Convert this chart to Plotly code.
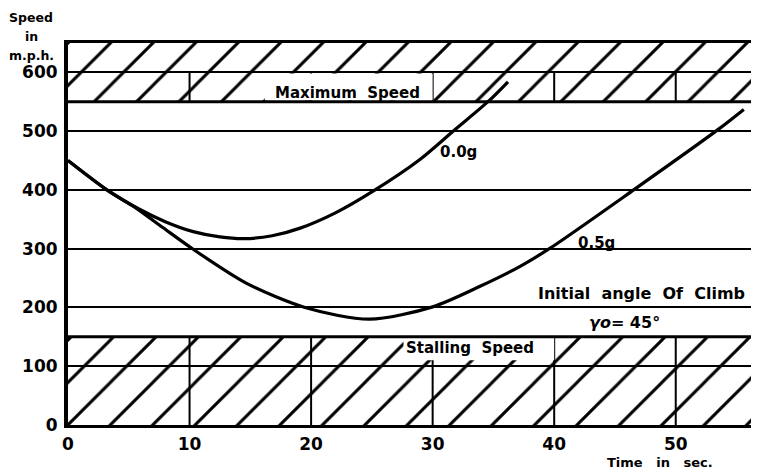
import plotly.graph_objects as go

# ---- data ----
time_00g = [0, 3.2, 5.8, 8.0, 10.3, 12.5, 14.5, 16.8, 19.1, 22.0, 25.1, 28.9, 31.8, 34.6, 36.2]
speed_00g = [450, 400, 368, 346, 329, 320, 317, 322, 335, 361, 398, 451, 502, 551, 584]

time_05g = [0, 3.2, 5.6, 7.8, 10.3, 14.7, 19.5, 24.8, 30.0, 33.9, 37.2, 39.6, 46.6, 53.5, 55.6]
speed_05g = [450, 400, 369, 336, 299, 241, 200, 180, 201, 236, 270, 300, 401, 503, 537]

x_ticks = [0, 10, 20, 30, 40, 50]
y_ticks = [0, 100, 200, 300, 400, 500, 600]

STALL_SPEED = 150
MAX_SPEED = 550
Y_TOP = 650
X_MAX = 56.85
ZONE_DIVIDER = 600

FONT = "DejaVu Sans"

fig = go.Figure()

# hatched zones
for lo, hi in [(0, STALL_SPEED), (MAX_SPEED, Y_TOP)]:
    fig.add_trace(go.Scatter(
        x=[0, X_MAX, X_MAX, 0, 0], y=[lo, lo, hi, hi, lo],
        mode="lines", line=dict(width=0), fill="toself",
        fillcolor="rgba(0,0,0,0)",
        fillpattern=dict(shape="/", size=30, solidity=0.1,
                         fgcolor="black", bgcolor="rgba(0,0,0,0)", fgopacity=1),
        hoverinfo="skip", showlegend=False))

# curves
fig.add_trace(go.Scatter(x=time_00g, y=speed_00g, mode="lines",
                         line=dict(color="black", width=3.2, shape="spline", smoothing=0.8),
                         showlegend=False))
fig.add_trace(go.Scatter(x=time_05g, y=speed_05g, mode="lines",
                         line=dict(color="black", width=3.2, shape="spline", smoothing=0.8),
                         showlegend=False))

shapes = []
# vertical dividers inside the zones
for xv in x_ticks[1:]:
    shapes.append(dict(type="line", xref="x", yref="y", x0=xv, x1=xv, y0=0, y1=STALL_SPEED,
                       line=dict(color="black", width=2), layer="above"))
    shapes.append(dict(type="line", xref="x", yref="y", x0=xv, x1=xv, y0=MAX_SPEED, y1=ZONE_DIVIDER,
                       line=dict(color="black", width=2), layer="above"))
# white label boxes
shapes.append(dict(type="rect", xref="x", yref="y", x0=16.2, x1=30, y0=MAX_SPEED + 2, y1=ZONE_DIVIDER - 2,
                   fillcolor="white", line=dict(width=0), layer="above"))
shapes.append(dict(type="rect", xref="x", yref="y", x0=27.6, x1=40, y0=110, y1=STALL_SPEED - 2,
                   fillcolor="white", line=dict(width=0), layer="above"))
# heavy zone limits
for yv in [STALL_SPEED, MAX_SPEED]:
    shapes.append(dict(type="line", xref="paper", yref="y", x0=0, x1=1, y0=yv, y1=yv,
                       line=dict(color="black", width=3), layer="above"))

ann_font = dict(family=FONT, size=15, color="black", weight="bold")
big_font = dict(family=FONT, size=16, color="black", weight="bold")
lab_font = dict(family=FONT, size=13, color="black", weight="bold")
side_font = dict(family=FONT, size=12.5, color="black", weight="bold")


def ann(text, x, y, xref="x", yref="y", font=ann_font):
    return dict(text=text, x=x, y=y, xref=xref, yref=yref, showarrow=False,
                xanchor="center", yanchor="middle", font=font)


annotations = [
    ann("Maximum  Speed", 23.0, 565),
    ann("Stalling  Speed", 33.1, 131),
    ann("0.0g", 32.1, 464),
    ann("0.5g", 43.5, 310),
    ann("Initial  angle  Of  Climb", 47.2, 224, font=big_font),
    ann("<i>γo</i>= 45°", 45.8, 175, font=big_font),
    ann("Time   in   sec.", 48.7, -0.097, yref="paper", font=lab_font),
    ann("Speed", -0.0535, 1.068, xref="paper", yref="paper", font=side_font),
    ann("in", -0.0535, 1.016, xref="paper", yref="paper", font=side_font),
    ann("m.p.h.", -0.0535, 0.966, xref="paper", yref="paper", font=side_font),
]

# the page body has an 8 px margin: size the figure so it fits the window exactly
fig.update_layout(
    width=751, height=465,
    margin=dict(l=60, r=0, t=35, b=48),
    paper_bgcolor="white", plot_bgcolor="white",
    font=dict(family=FONT, color="black"),
    shapes=shapes, annotations=annotations,
    xaxis=dict(range=[0, X_MAX], tickvals=x_ticks, showgrid=False, zeroline=False,
               showline=True, linecolor="black", linewidth=3, mirror=True,
               ticks="", ticklabelstandoff=2,
               tickfont=dict(family=FONT, size=17, color="black", weight="bold")),
    yaxis=dict(range=[0, Y_TOP], tickvals=y_ticks, showgrid=True, gridcolor="black", gridwidth=1.5,
               zeroline=False, showline=True, linecolor="black", linewidth=4,
               ticks="", ticklabelstandoff=3,
               tickfont=dict(family=FONT, size=17, color="black", weight="bold")),
)

fig.write_html("out.html")
